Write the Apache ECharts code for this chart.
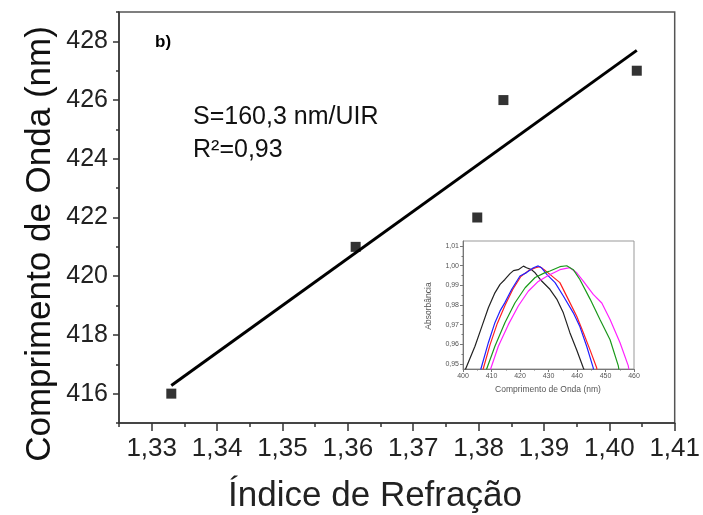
<!DOCTYPE html>
<html>
<head>
<meta charset="utf-8">
<script src="https://cdn.jsdelivr.net/npm/echarts@6/dist/echarts.min.js"></script>
<style>
  html, body { margin: 0; padding: 0; background: #fff; }
  #chart { width: 703px; height: 515px; }
</style>
</head>
<body>
<div id="chart"></div>
<script>
// Peak wavelength of the resonance vs. refractive index of the medium
const refractiveIndex = [1.333, 1.3612, 1.3798, 1.3838, 1.4042];
const peakWavelength = [416, 421, 422, 426, 427];
const sensitivity = 160.3;   // nm/UIR, slope of the linear fit
const fitIntercept = 202.6;  // nm, intercept of the linear fit
const rSquared = 0.93;

const xMajorTicks = [1.33, 1.34, 1.35, 1.36, 1.37, 1.38, 1.39, 1.40, 1.41];
const xMinorTicks = [1.325, 1.335, 1.345, 1.355, 1.365, 1.375, 1.385, 1.395, 1.405];
const yMajorTicks = [416, 418, 420, 422, 424, 426, 428];
const yMinorTicks = [415, 417, 419, 421, 423, 425, 427, 429];

// Inset: normalised absorbance spectra, [wavelength nm, absorbance]
const spectrumBlack = [[400.8,0.947],[402.5,0.953],[404.2,0.959],[406.6,0.969],[408.9,0.9786],[411.2,0.9862],[413,0.9905],[414.7,0.993],[416.5,0.996],[417.7,0.9975],[419.4,0.998],[421.2,0.9998],[422.3,0.999],[424,0.998],[425.3,0.9964],[427.6,0.9922],[430.5,0.988],[432.9,0.983],[435.2,0.976],[437.5,0.9659],[439.9,0.9571],[442.2,0.948],[442.5,0.947]];
const spectrumBlue = [[406.2,0.947],[408.9,0.9608],[411.2,0.971],[413,0.977],[414.7,0.9812],[417.1,0.988],[420,0.9948],[422.3,0.9965],[424.7,0.999],[426.4,0.9999],[427.5,0.999],[429.4,0.9956],[432.3,0.9914],[435.2,0.9846],[438.7,0.976],[441,0.969],[443.4,0.959],[445.7,0.948],[445.8,0.947]];
const spectrumRed = [[407,0.947],[409.5,0.9598],[412,0.9705],[414.8,0.98],[417.5,0.988],[420.3,0.9945],[423,0.9975],[425.5,0.999],[427,0.9995],[428.5,0.998],[430.5,0.9956],[434,0.9914],[436.9,0.983],[439.9,0.9743],[442.2,0.966],[444.6,0.957],[446.9,0.948],[447,0.947]];
const spectrumGreen = [[408.2,0.947],[411.2,0.959],[414.7,0.971],[418.2,0.981],[421.8,0.9888],[425.3,0.994],[428.8,0.9965],[430.5,0.9973],[434,0.9995],[436.4,1.0],[438.7,0.998],[441,0.993],[444.6,0.983],[448.1,0.9725],[451.6,0.9623],[454.5,0.949],[454.7,0.947]];
const spectrumMagenta = [[409.6,0.947],[412.4,0.959],[415.9,0.97],[419.4,0.9795],[422.9,0.987],[426.4,0.992],[429.9,0.995],[434,0.998],[437.5,0.999],[439.9,0.9964],[442.2,0.9922],[445.7,0.9854],[448.7,0.981],[451.6,0.9726],[455.1,0.9608],[458,0.949],[458.2,0.947]];
const insetYTicks = [0.95, 0.96, 0.97, 0.98, 0.99, 1.00, 1.01];
const insetYMinorTicks = [0.955, 0.965, 0.975, 0.985, 0.995, 1.005];

const FONT = 'Liberation Sans, Arial, sans-serif';
const comma = (v, d) => v.toFixed(d).replace('.', ',');

// Linear fit drawn across the range of the measured points
const xLo = Math.min(...refractiveIndex);
const xHi = Math.max(...refractiveIndex);
const fitLine = [xLo, xHi].map(x => [x, fitIntercept + sensitivity * x]);

const axisColor = '#333';
const insetColor = '#777';

const chart = echarts.init(document.getElementById('chart'), null, { renderer: 'canvas' });
chart.setOption({
  animation: false,
  backgroundColor: '#fff',
  grid: [
    { left: 119, top: 12, width: 558, height: 411, show: true, borderColor: '#555', borderWidth: 1.5, backgroundColor: 'transparent' },
    { left: 463, top: 241, width: 171, height: 128, show: true, borderColor: '#999', borderWidth: 1, backgroundColor: '#fff' }
  ],
  xAxis: [
    {
      gridIndex: 0, type: 'value', min: 1.325, max: 1.41,
      axisLine: { lineStyle: { color: axisColor, width: 1.5 } },
      axisTick: { customValues: xMajorTicks, length: 8, lineStyle: { color: axisColor, width: 1.5 } },
      axisLabel: { customValues: xMajorTicks, formatter: v => comma(v, 2), fontSize: 26, color: '#222', fontFamily: FONT, margin: 13 },
      splitLine: { show: false }
    },
    {
      gridIndex: 0, type: 'value', min: 1.325, max: 1.41, position: 'bottom',
      axisLine: { show: false },
      axisTick: { customValues: xMinorTicks, length: 4, lineStyle: { color: axisColor, width: 1.5 } },
      axisLabel: { show: false },
      splitLine: { show: false }
    },
    {
      gridIndex: 1, type: 'value', min: 400, max: 460, interval: 10,
      axisLine: { lineStyle: { color: insetColor, width: 1 } },
      axisTick: { length: 3, lineStyle: { color: insetColor } },
      minorTick: { show: true, splitNumber: 2, length: 1.5, lineStyle: { color: insetColor } },
      axisLabel: { fontSize: 7, color: '#555', fontFamily: FONT, margin: 4 },
      splitLine: { show: false }
    }
  ],
  yAxis: [
    {
      gridIndex: 0, type: 'value', min: 415, max: 429,
      axisLine: { lineStyle: { color: axisColor, width: 1.5 } },
      axisTick: { customValues: yMajorTicks, length: 6, lineStyle: { color: axisColor, width: 1.5 } },
      axisLabel: { customValues: yMajorTicks, fontSize: 25, color: '#222', fontFamily: FONT, margin: 11 },
      splitLine: { show: false }
    },
    {
      gridIndex: 0, type: 'value', min: 415, max: 429, position: 'left',
      axisLine: { show: false },
      axisTick: { customValues: yMinorTicks, length: 3, lineStyle: { color: axisColor, width: 1.5 } },
      axisLabel: { show: false },
      splitLine: { show: false }
    },
    {
      gridIndex: 1, type: 'value', min: 0.9474, max: 1.0126,
      axisLine: { lineStyle: { color: insetColor, width: 1 } },
      axisTick: { customValues: insetYTicks, length: 3, lineStyle: { color: insetColor } },
      axisLabel: { customValues: insetYTicks, formatter: v => comma(v, 2), fontSize: 7, color: '#555', fontFamily: FONT, margin: 4 },
      splitLine: { show: false }
    },
    {
      gridIndex: 1, type: 'value', min: 0.9474, max: 1.0126, position: 'left',
      axisLine: { show: false },
      axisTick: { customValues: insetYMinorTicks, length: 1.5, lineStyle: { color: insetColor } },
      axisLabel: { show: false },
      splitLine: { show: false }
    }
  ],
  series: [
    {
      type: 'line', xAxisIndex: 0, yAxisIndex: 0, data: fitLine,
      symbol: 'none', lineStyle: { color: '#000', width: 3 }, z: 2
    },
    {
      type: 'scatter', xAxisIndex: 0, yAxisIndex: 0,
      data: refractiveIndex.map((x, i) => [x, peakWavelength[i]]),
      symbol: 'rect', symbolSize: 10, itemStyle: { color: '#000' }, z: 3
    },
    { type: 'line', xAxisIndex: 2, yAxisIndex: 2, data: spectrumBlack, symbol: 'none', clip: true, lineStyle: { color: '#222', width: 1.2 }, z: 4 },
    { type: 'line', xAxisIndex: 2, yAxisIndex: 2, data: spectrumRed, symbol: 'none', clip: true, lineStyle: { color: '#ff2020', width: 1.2 }, z: 4 },
    { type: 'line', xAxisIndex: 2, yAxisIndex: 2, data: spectrumBlue, symbol: 'none', clip: true, lineStyle: { color: '#2020ff', width: 1.2 }, z: 4 },
    { type: 'line', xAxisIndex: 2, yAxisIndex: 2, data: spectrumMagenta, symbol: 'none', clip: true, lineStyle: { color: '#ff20ff', width: 1.2 }, z: 4 },
    { type: 'line', xAxisIndex: 2, yAxisIndex: 2, data: spectrumGreen, symbol: 'none', clip: true, lineStyle: { color: '#1a9a1a', width: 1.2 }, z: 4 }
  ],
  graphic: [
    { type: 'text', x: 155, y: 42, style: { text: 'b)', font: 'bold 17px ' + FONT, fill: '#000', verticalAlign: 'middle' } },
    { type: 'text', x: 193, y: 117, style: { text: 'S=' + comma(sensitivity, 1) + ' nm/UIR', font: '25px ' + FONT, fill: '#111', verticalAlign: 'middle' } },
    { type: 'text', x: 193, y: 150, style: { text: 'R\u00B2=' + comma(rSquared, 2), font: '25px ' + FONT, fill: '#111', verticalAlign: 'middle' } },
    { type: 'text', x: 375, y: 496, style: { text: 'Índice de Refração', font: '35px ' + FONT, fill: '#222', align: 'center', verticalAlign: 'middle' } },
    { type: 'text', x: 40, y: 244, rotation: Math.PI / 2, style: { text: 'Comprimento de Onda (nm)', font: '35px ' + FONT, fill: '#111', align: 'center', verticalAlign: 'middle' } },
    { type: 'text', x: 548, y: 390, style: { text: 'Comprimento de Onda (nm)', font: '8.5px ' + FONT, fill: '#555', align: 'center', verticalAlign: 'middle' } },
    { type: 'text', x: 429, y: 306, rotation: Math.PI / 2, style: { text: 'Absorbância', font: '8.5px ' + FONT, fill: '#555', align: 'center', verticalAlign: 'middle' } }
  ]
});
</script>
</body>
</html>
